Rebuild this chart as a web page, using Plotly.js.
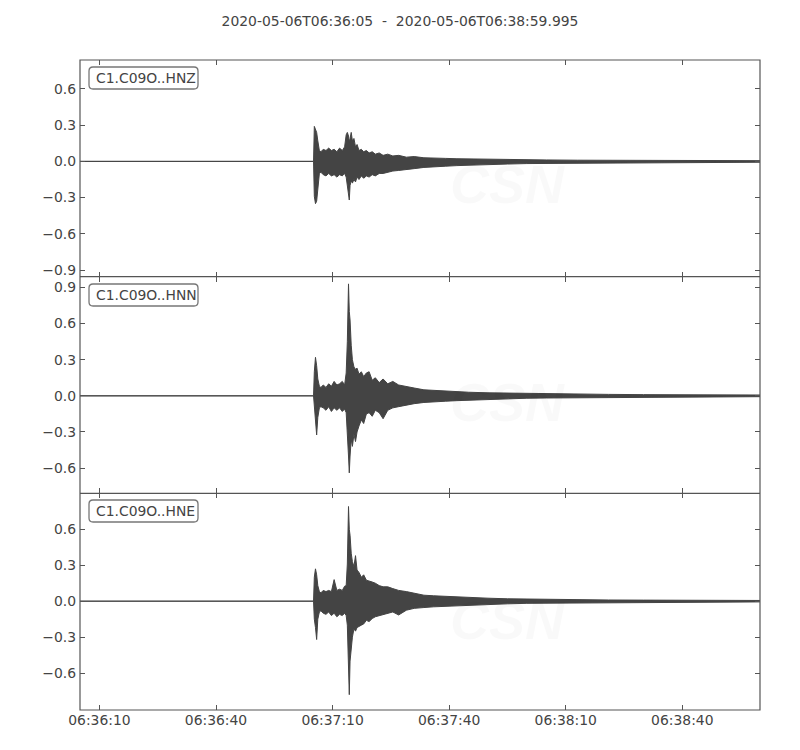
<!DOCTYPE html>
<html>
<head>
<meta charset="utf-8">
<script src="https://cdn.plot.ly/plotly-3.0.1.min.js"></script>
<style>
  html, body { margin: 0; padding: 0; background: #fff; }
  #plot { width: 800px; height: 750px; }
</style>
</head>
<body>
<div id="plot"></div>
<script>
// trace window
var START = Date.UTC(2020, 4, 6, 6, 36, 5);
var END = START + 174995;

// envelope knots, seconds after 06:36:05
var knotSec = [0, 60.1, 60.3, 60.6, 60.9, 61.2, 61.6, 62.0, 62.6, 63.3,
  64.0, 64.7, 65.4, 66.1, 66.8, 67.5, 68.1, 68.5, 68.8, 69.1,
  69.3, 69.5, 69.8, 70.1, 70.5, 70.9, 71.3, 71.8, 72.4, 73.0,
  73.7, 74.4, 75.2, 76.0, 77.0, 78.0, 79.2, 80.5, 82, 84,
  86, 88.5, 91, 94, 97, 100, 105, 110, 115, 120,
  128, 136, 145, 155, 165, 174.995];

// HNZ upper / lower envelope
var hnzHi = [0, 0, 0.29, 0.27, 0.24, 0.17, 0.09, 0.08, 0.10, 0.09,
  0.11, 0.09, 0.10, 0.08, 0.11, 0.09, 0.12, 0.22, 0.24, 0.21,
  0.16, 0.19, 0.24, 0.17, 0.19, 0.12, 0.14, 0.09, 0.10, 0.08,
  0.09, 0.07, 0.08, 0.06, 0.07, 0.05, 0.06, 0.045, 0.05, 0.035,
  0.04, 0.03, 0.03, 0.025, 0.022, 0.02, 0.017, 0.015, 0.013, 0.012,
  0.01, 0.009, 0.008, 0.007, 0.006, 0.006];
var hnzLo = [0, 0, -0.29, -0.35, -0.33, -0.21, -0.10, -0.09, -0.11, -0.12,
  -0.10, -0.12, -0.11, -0.13, -0.11, -0.12, -0.10, -0.13, -0.20, -0.28,
  -0.32, -0.20, -0.16, -0.18, -0.15, -0.17, -0.13, -0.15, -0.12, -0.14,
  -0.12, -0.13, -0.11, -0.12, -0.10, -0.10, -0.09, -0.08, -0.075, -0.065,
  -0.06, -0.05, -0.045, -0.04, -0.035, -0.03, -0.025, -0.022, -0.018, -0.016,
  -0.013, -0.012, -0.01, -0.009, -0.008, -0.007];

// HNN
var hnnHi = [0, 0, 0.20, 0.32, 0.25, 0.14, 0.08, 0.07, 0.09, 0.07,
  0.10, 0.08, 0.12, 0.09, 0.10, 0.12, 0.09, 0.19, 0.45, 0.93,
  0.70, 0.63, 0.42, 0.30, 0.24, 0.22, 0.23, 0.18, 0.20, 0.16,
  0.19, 0.20, 0.13, 0.15, 0.11, 0.14, 0.10, 0.12, 0.09, 0.08,
  0.065, 0.05, 0.045, 0.04, 0.035, 0.03, 0.025, 0.022, 0.02, 0.018,
  0.015, 0.012, 0.01, 0.009, 0.008, 0.007];
var hnnLo = [0, 0, -0.15, -0.20, -0.325, -0.18, -0.10, -0.09, -0.10, -0.12,
  -0.09, -0.13, -0.10, -0.12, -0.10, -0.13, -0.11, -0.14, -0.30, -0.50,
  -0.64, -0.50, -0.36, -0.42, -0.32, -0.38, -0.30, -0.25, -0.20, -0.23,
  -0.15, -0.14, -0.17, -0.12, -0.14, -0.19, -0.12, -0.10, -0.09, -0.075,
  -0.065, -0.055, -0.05, -0.045, -0.04, -0.035, -0.028, -0.024, -0.02, -0.018,
  -0.015, -0.013, -0.011, -0.009, -0.008, -0.007];

// HNE
var hneHi = [0, 0, 0.20, 0.27, 0.22, 0.13, 0.08, 0.07, 0.09, 0.08,
  0.09, 0.08, 0.18, 0.09, 0.10, 0.09, 0.125, 0.13, 0.31, 0.79,
  0.60, 0.55, 0.40, 0.33, 0.29, 0.38, 0.26, 0.24, 0.20, 0.22,
  0.175, 0.17, 0.16, 0.15, 0.13, 0.12, 0.12, 0.105, 0.09, 0.08,
  0.065, 0.05, 0.045, 0.04, 0.035, 0.03, 0.025, 0.02, 0.017, 0.015,
  0.012, 0.01, 0.009, 0.008, 0.007, 0.006];
var hneLo = [0, 0, -0.15, -0.22, -0.32, -0.15, -0.09, -0.08, -0.10, -0.11,
  -0.09, -0.12, -0.10, -0.13, -0.11, -0.12, -0.10, -0.12, -0.20, -0.45,
  -0.78, -0.50, -0.38, -0.30, -0.23, -0.25, -0.22, -0.21, -0.20, -0.19,
  -0.16, -0.17, -0.145, -0.13, -0.12, -0.11, -0.10, -0.09, -0.115, -0.075,
  -0.06, -0.053, -0.047, -0.04, -0.036, -0.032, -0.027, -0.022, -0.018, -0.015,
  -0.012, -0.01, -0.009, -0.008, -0.007, -0.006];

var channels = ['C1.C09O..HNZ', 'C1.C09O..HNN', 'C1.C09O..HNE'];

// x ticks
var xTickSec = [5, 35, 65, 95, 125, 155];
var xTickText = ['06:36:10', '06:36:40', '06:37:10', '06:37:40', '06:38:10', '06:38:40'];

// y ticks per panel
var yTicks1 = [-0.9, -0.6, -0.3, 0, 0.3, 0.6];
var yText1 = ['\u22120.9', '\u22120.6', '\u22120.3', '0.0', '0.3', '0.6'];
var yTicks2 = [-0.6, -0.3, 0, 0.3, 0.6, 0.9];
var yText2 = ['\u22120.6', '\u22120.3', '0.0', '0.3', '0.6', '0.9'];
var yTicks3 = [-0.6, -0.3, 0, 0.3, 0.6];
var yText3 = ['\u22120.6', '\u22120.3', '0.0', '0.3', '0.6'];

var yRange1 = [-0.955, 0.84];
var yRange2 = [-0.81, 0.99];
var yRange3 = [-0.908, 0.9];

var INK = '#444444';
var SPINE = '#555555';
var FONT = 'DejaVu Sans, sans-serif';
var FS = 13.9;
var LW = 1.2;

function wave(hi, lo, xa, ya) {
  var xs = knotSec.map(function (s) { return START + s * 1000; });
  return {
    type: 'scatter',
    mode: 'lines',
    x: xs.concat(xs.slice().reverse()),
    y: hi.concat(lo.slice().reverse()),
    fill: 'toself',
    fillcolor: INK,
    line: {color: INK, width: 1},
    xaxis: xa,
    yaxis: ya,
    hoverinfo: 'skip',
    showlegend: false
  };
}

var data = [
  wave(hnzHi, hnzLo, 'x', 'y'),
  wave(hnnHi, hnnLo, 'x2', 'y2'),
  wave(hneHi, hneLo, 'x3', 'y3')
];

function xAxis(anchor, labels) {
  return {
    type: 'date',
    anchor: anchor,
    range: [START, END],
    tickvals: xTickSec.map(function (s) { return START + s * 1000; }),
    ticktext: xTickText,
    showticklabels: labels,
    ticks: 'inside',
    ticklen: 5,
    tickwidth: 1,
    tickcolor: SPINE,
    mirror: 'ticks',
    showline: false,
    showgrid: false,
    zeroline: false,
    tickfont: {family: FONT, size: FS, color: INK},
    fixedrange: true
  };
}

function yAxis(anchor, domain, range, vals, text) {
  return {
    anchor: anchor,
    domain: domain,
    range: range,
    tickvals: vals,
    ticktext: text,
    ticks: 'inside',
    ticklen: 5,
    tickwidth: 1,
    tickcolor: SPINE,
    mirror: 'ticks',
    showline: false,
    showgrid: false,
    zeroline: false,
    ticklabelstandoff: 3,
    tickfont: {family: FONT, size: FS, color: INK},
    fixedrange: true
  };
}

// pixel -> paper helpers
function PX(px) { return (px - 80) / 680; }
function PY(py) { return (710 - py) / 650; }

function roundBox(x0, y0, x1, y1, r) {
  var p = [
    'M', PX(x0 + r), PY(y0),
    'L', PX(x1 - r), PY(y0),
    'Q', PX(x1), PY(y0), PX(x1), PY(y0 + r),
    'L', PX(x1), PY(y1 - r),
    'Q', PX(x1), PY(y1), PX(x1 - r), PY(y1),
    'L', PX(x0 + r), PY(y1),
    'Q', PX(x0), PY(y1), PX(x0), PY(y1 - r),
    'L', PX(x0), PY(y0 + r),
    'Q', PX(x0), PY(y0), PX(x0 + r), PY(y0),
    'Z'
  ];
  return p.join(' ');
}

var annotations = [];
var shapes = [];

// frame: outer box plus the two shared panel borders
shapes.push({type: 'rect', xref: 'paper', yref: 'paper', x0: 0, x1: 1, y0: 0, y1: 1,
  layer: 'above', line: {color: SPINE, width: LW}});
[1 / 3, 2 / 3].forEach(function (yy) {
  shapes.push({type: 'line', xref: 'paper', yref: 'paper', x0: 0, x1: 1, y0: yy, y1: yy,
    layer: 'above', line: {color: SPINE, width: LW}});
});

var panelTopPx = [60, 277, 493];
var wmFont = 'Liberation Sans, sans-serif';
var wm = 'rgba(0,0,0,0.022)';
channels.forEach(function (c, i) {
  var top = panelTopPx[i];
  shapes.push({
    type: 'path', xref: 'paper', yref: 'paper', layer: 'above',
    path: roundBox(89, top + 7, 198, top + 29, 4),
    fillcolor: '#ffffff',
    line: {color: '#777', width: 1.3}
  });
  annotations.push({
    xref: 'paper', yref: 'paper',
    x: PX(94), y: PY(top + 18),
    xanchor: 'left', yanchor: 'middle',
    text: c,
    showarrow: false,
    font: {family: FONT, size: FS, color: INK}
  });
  // faint watermark
  var off = i * 218;
  annotations.push({
    xref: 'paper', yref: 'paper',
    x: PX(507), y: PY(184 + off),
    yanchor: 'middle',
    text: 'CSN', showarrow: false,
    font: {family: wmFont, size: 54, color: wm, weight: 'bold', style: 'italic'}
  });
  annotations.push({
    xref: 'paper', yref: 'paper',
    x: PX(530), y: PY(233 + off),
    xanchor: 'left', yanchor: 'middle',
    text: 'CENTRO SISMOLÓGICO NACIONAL<br>UNIVERSIDAD DE CHILE',
    align: 'left', showarrow: false,
    font: {family: wmFont, size: 13.5, color: wm, style: 'italic'}
  });
});

var layout = {
  width: 800,
  height: 750,
  margin: {l: 80, r: 40, t: 60, b: 40},
  paper_bgcolor: '#ffffff',
  plot_bgcolor: '#ffffff',
  showlegend: false,
  title: {
    text: '2020-05-06T06:36:05\u00a0\u00a0-\u00a0\u00a02020-05-06T06:38:59.995',
    font: {family: FONT, size: FS, color: INK},
    xref: 'container', yref: 'container',
    x: 0.5, y: 1 - 21 / 750,
    xanchor: 'center', yanchor: 'middle'
  },
  xaxis: xAxis('y', false),
  xaxis2: Object.assign(xAxis('y2', false), {matches: 'x'}),
  xaxis3: Object.assign(xAxis('y3', true), {matches: 'x'}),
  yaxis: yAxis('x', [2 / 3, 1], yRange1, yTicks1, yText1),
  yaxis2: yAxis('x2', [1 / 3, 2 / 3], yRange2, yTicks2, yText2),
  yaxis3: yAxis('x3', [0, 1 / 3], yRange3, yTicks3, yText3),
  shapes: shapes,
  annotations: annotations
};

Plotly.newPlot('plot', data, layout, {staticPlot: true});
</script>
</body>
</html>
